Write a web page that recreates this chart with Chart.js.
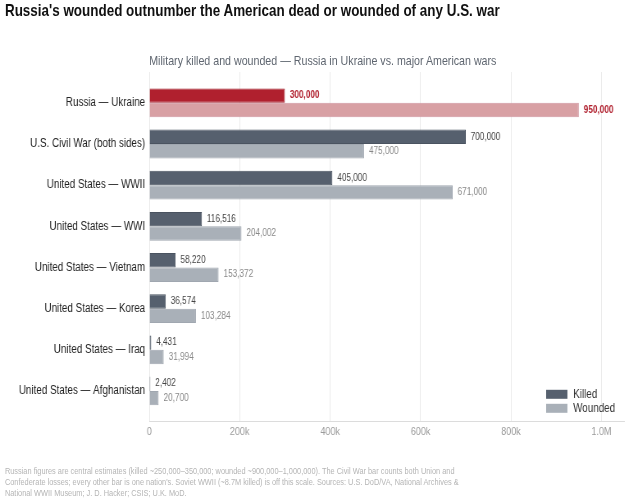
<!DOCTYPE html>
<html><head><meta charset="utf-8">
<script src="https://cdn.jsdelivr.net/npm/chart.js@4.4.1/dist/chart.umd.min.js"></script>
<style>
html,body{margin:0;padding:0;background:#fff;width:629px;height:500px;overflow:hidden;font-family:"Liberation Sans",Arial,sans-serif;}
/* the whole figure is laid out 767px wide and condensed horizontally to 629px */
#wrap{position:relative;width:767px;height:500px;transform:scaleX(0.82);transform-origin:0 0;}
#title{position:absolute;left:6px;top:1px;font-size:16.4px;font-weight:bold;color:#111;white-space:nowrap;}
#subtitle{position:absolute;left:182px;top:53px;font-size:13px;color:#5f6670;white-space:nowrap;}
#foot{position:absolute;left:6px;top:466px;width:584px;font-size:9px;line-height:11px;color:#b5b5b5;}
canvas{position:absolute;left:0;top:0;}
</style></head>
<body><div id="wrap">
<canvas id="c" width="767" height="500"></canvas>
<div id="title">Russia's wounded outnumber the American dead or wounded of any U.S. war</div>
<div id="subtitle">Military killed and wounded — Russia in Ukraine vs. major American wars</div>
<div id="foot">Russian figures are central estimates (killed ~250,000–350,000; wounded ~900,000–1,000,000). The Civil War bar counts both Union and Confederate losses; every other bar is one nation's. Soviet WWII (~8.7M killed) is off this scale. Sources: U.S. DoD/VA, National Archives &amp; National WWII Museum; J. D. Hacker; CSIS; U.K. MoD.</div>
</div>
<script>
const categories = ["Russia — Ukraine","U.S. Civil War (both sides)","United States — WWII","United States — WWI","United States — Vietnam","United States — Korea","United States — Iraq","United States — Afghanistan"];
const killed = [300000,700000,405000,116516,58220,36574,4431,2402];
const wounded = [950000,475000,671000,204002,153372,103284,31994,20700];
const seriesNames = ["Killed","Wounded"];
const xTicks = [0,200000,400000,600000,800000,1000000];

const FONT = "'Liberation Sans', Arial, sans-serif";
const killedColors = categories.map((c,i)=> i===0 ? "#b0202e" : "#56606e");
const woundedColors = categories.map((c,i)=> i===0 ? "#d8a0a4" : "#a9b0b8");
const killedBorders = categories.map((c,i)=> i===0 ? "#a01c28" : "#4a5360");
const woundedBorders = categories.map((c,i)=> i===0 ? "#d096a0" : "#a0a7b0");

const labelPlugin = {
  id:'barLabels',
  afterDatasetsDraw(chart){
    const ctx = chart.ctx;
    ctx.save();
    ctx.textBaseline='middle';
    ctx.textAlign='left';
    chart.data.datasets.forEach((ds,di)=>{
      const meta = chart.getDatasetMeta(di);
      meta.data.forEach((bar,i)=>{
        const v = ds.data[i].x;
        if(i===0){ ctx.fillStyle="#b0202e"; ctx.font="bold 10px "+FONT; }
        else { ctx.fillStyle = di===0 ? "#444" : "#888"; ctx.font="10px "+FONT; }
        ctx.fillText(v.toLocaleString('en-US'), bar.x+6, bar.y);
      });
    });
    ctx.restore();
  }
};
const legendPlugin = {
  id:'cornerLegend',
  afterDraw(chart){
    const ctx = chart.ctx, a = chart.chartArea;
    ctx.save();
    const cols = ["#56606e","#a9b0b8"];
    ctx.font="12px "+FONT;
    ctx.textBaseline='middle';
    seriesNames.forEach((n,i)=>{
      const y = a.bottom - 32 + i*14;
      ctx.fillStyle = cols[i];
      ctx.fillRect(a.right - 95, y, 26, 9);
      ctx.fillStyle="#333";
      ctx.fillText(n, a.right - 62, y+5);
    });
    ctx.restore();
  }
};

new Chart(document.getElementById('c'),{
  type:'bar',
  data:{labels:categories,datasets:[
    {label:seriesNames[0],data:killed.map((v,i)=>({x:v,y:i})),backgroundColor:killedColors,borderColor:killedBorders,borderWidth:1,categoryPercentage:0.7,barPercentage:1},
    {label:seriesNames[1],data:wounded.map((v,i)=>({x:v,y:i})),backgroundColor:woundedColors,borderColor:woundedBorders,borderWidth:1,categoryPercentage:0.7,barPercentage:1}
  ]},
  options:{
    indexAxis:'y',responsive:false,animation:false,
    layout:{padding:{top:72,bottom:57,right:6,left:0}},
    plugins:{legend:{display:false},tooltip:{enabled:false}},
    scales:{
      x:{type:'linear',min:0,max:1050000,
        afterBuildTicks(s){ s.ticks = xTicks.map(v=>({value:v})); },
        ticks:{color:"#9a9a9a",font:{size:11,family:FONT},padding:4,
          callback(v){ return v===0?'0':(v>=1000000?(v/1000000).toFixed(1)+'M':(v/1000)+'k'); }},
        grid:{color:"#ebebeb",drawTicks:false},
        border:{color:"#dcdcdc"}
      },
      y:{type:'linear',min:-0.75,max:7.75,reverse:true,offset:false,
        afterBuildTicks(s){ s.ticks = categories.map((c,i)=>({value:i})); },
        afterFit(s){ s.width=182; },
        ticks:{color:"#222",font:{size:12,family:FONT},padding:5,
          callback(v){ return categories[v]; }},
        grid:{display:false,drawTicks:false},
        border:{display:false}
      }
    }
  },
  plugins:[labelPlugin,legendPlugin]
});
</script>
</body></html>
